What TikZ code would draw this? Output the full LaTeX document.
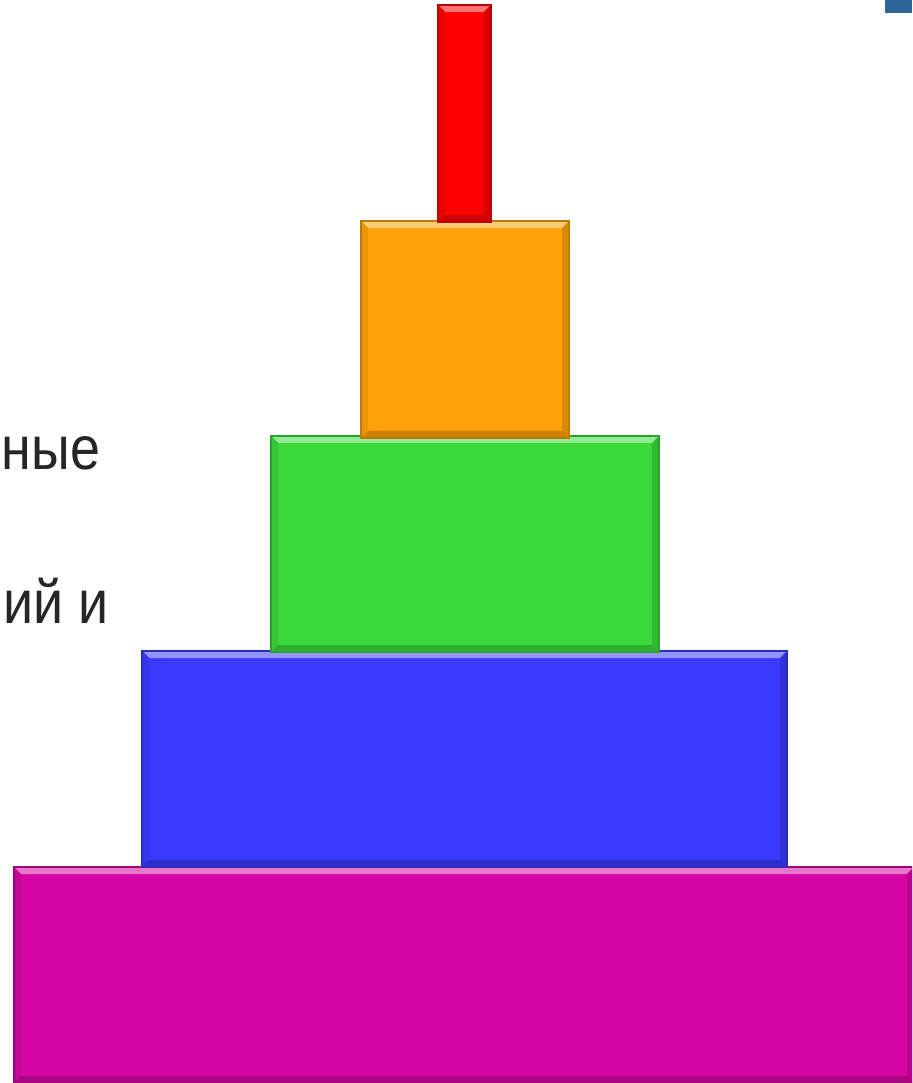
\documentclass[tikz,border=0pt]{standalone}
\usepackage{fontspec}
\setmainfont{Liberation Sans}
\newfontfamily\labelfont[FakeStretch=0.88]{Liberation Sans}
\usepackage{xcolor}

\definecolor{tierred}{HTML}{FE0202}
\definecolor{tierorange}{HTML}{FFA20A}
\definecolor{tiergreen}{HTML}{3AD83A}
\definecolor{tierblue}{HTML}{3A3AFF}
\definecolor{tiermagenta}{HTML}{D606A4}
\definecolor{cornerblue}{HTML}{2F6699}
\definecolor{textgray}{HTML}{262626}

% bevelled block: colour, left, top, right, bottom (pixel units)
\newcommand{\tierblock}[5]{%
  \fill[#1] (#2,#3) rectangle (#4,#5);
  \fill[#1!55!white] (#2,#3) -- (#4,#3) -- ({#4-7},{#3+7}) -- ({#2+7},{#3+7}) -- cycle;
  \fill[#1!92!black] (#2,#3) -- ({#2+7},{#3+7}) -- ({#2+7},{#5-7}) -- (#2,#5) -- cycle;
  \fill[#1!85!black] (#4,#3) -- ({#4-7},{#3+7}) -- ({#4-7},{#5-7}) -- (#4,#5) -- cycle;
  \fill[#1!80!black] (#2,#5) -- (#4,#5) -- ({#4-7},{#5-7}) -- ({#2+7},{#5-7}) -- cycle;
  \draw[#1!75!black,line width=0.3pt] (#2,#3) rectangle (#4,#5);
}

\begin{document}
\begin{tikzpicture}[x=0.01cm,y=-0.01cm,
    label text/.style={anchor=base west,text=textgray,inner sep=0pt,
      font=\labelfont\fontsize{17.4pt}{21pt}\selectfont}]

    \useasboundingbox (0,0) rectangle (912,1083);
    \clip (0,0) rectangle (912,1083);

    % corner mark
    \fill[cornerblue] (885,0) rectangle (912,13);

    % text at the left edge
    \node[label text] (lineA) at (1,470) {ные};
    \node[label text] (lineB) at (3,623) {ий и};

    % pyramid, bottom tier first
    \tierblock{tiermagenta}{14}{867}{914}{1083}
    \tierblock{tierblue}{142}{651}{787}{867}
    \tierblock{tiergreen}{271}{436}{659}{652}
    \tierblock{tierorange}{361}{221}{569}{438}
    \tierblock{tierred}{438}{5}{491}{222}

\end{tikzpicture}
\end{document}
